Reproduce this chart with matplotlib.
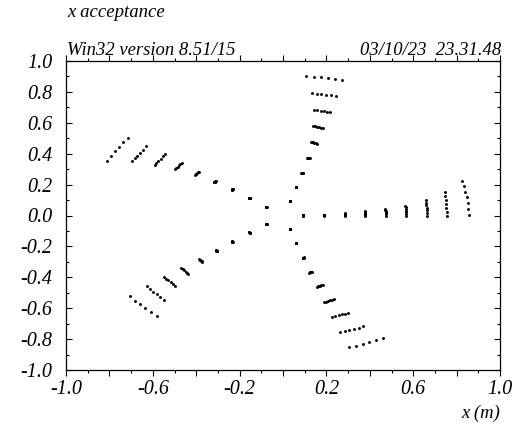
import numpy as np
import matplotlib
matplotlib.use('Agg')
import matplotlib.pyplot as plt
from matplotlib.ticker import MultipleLocator, FixedLocator

plt.rcParams['font.family'] = 'Liberation Serif'
plt.rcParams['font.style'] = 'italic'
plt.rcParams['axes.unicode_minus'] = False

# --- data (x, y in metres), 5 arms x 9 groups ---
right_x = [0.093, 0.093, 0.093, 0.094, 0.094, 0.094, 0.094,
           0.189, 0.190, 0.190, 0.190, 0.191, 0.191, 0.191,
           0.284, 0.285, 0.285, 0.285, 0.286, 0.286, 0.286,
           0.377, 0.378, 0.378, 0.379, 0.379, 0.379, 0.380,
           0.471, 0.472, 0.473, 0.473, 0.474, 0.474, 0.474,
           0.564, 0.565, 0.566, 0.566, 0.567, 0.567, 0.568,
           0.659, 0.660, 0.661, 0.662, 0.663, 0.664, 0.664,
           0.746, 0.748, 0.750, 0.752, 0.753, 0.755, 0.756,
           0.827, 0.834, 0.840, 0.847, 0.851, 0.854, 0.856]
right_y = [0.003, 0.002, 0.002, 0.001, 0.001, 0.000, 0.000,
           0.006, 0.005, 0.004, 0.003, 0.002, 0.001, 0.000,
           0.013, 0.011, 0.009, 0.006, 0.004, 0.002, 0.000,
           0.026, 0.022, 0.017, 0.013, 0.009, 0.004, 0.000,
           0.040, 0.033, 0.027, 0.020, 0.013, 0.007, 0.000,
           0.062, 0.052, 0.041, 0.031, 0.021, 0.010, 0.000,
           0.100, 0.083, 0.067, 0.050, 0.033, 0.017, 0.000,
           0.152, 0.127, 0.101, 0.076, 0.050, 0.025, 0.000,
           0.225, 0.191, 0.154, 0.118, 0.079, 0.042, 0.003]

top_x = [0.030, 0.030, 0.030, 0.031, 0.031, 0.031,
         0.058, 0.059, 0.059, 0.060, 0.060, 0.061,
         0.085, 0.087, 0.088, 0.089, 0.091, 0.093,
         0.110, 0.113, 0.116, 0.119, 0.122, 0.125,
         0.128, 0.134, 0.140, 0.145, 0.151, 0.157,
         0.139, 0.148, 0.158, 0.167, 0.177, 0.186,
         0.143, 0.158, 0.173, 0.187, 0.202, 0.217,
         0.134, 0.155, 0.177, 0.199, 0.220, 0.243,
         0.107, 0.142, 0.176, 0.208, 0.240, 0.270]
top_y = [0.092, 0.092, 0.092, 0.092, 0.092, 0.091,
         0.185, 0.185, 0.184, 0.184, 0.184, 0.183,
         0.278, 0.278, 0.277, 0.277, 0.276, 0.276,
         0.375, 0.374, 0.373, 0.372, 0.371, 0.370,
         0.478, 0.476, 0.473, 0.471, 0.468, 0.465,
         0.579, 0.577, 0.574, 0.571, 0.569, 0.566,
         0.685, 0.682, 0.678, 0.675, 0.672, 0.668,
         0.791, 0.786, 0.784, 0.782, 0.778, 0.772,
         0.901, 0.898, 0.894, 0.890, 0.885, 0.879]

lowright_x = [0.030, 0.030, 0.030, 0.031, 0.031, 0.031,
              0.060, 0.060, 0.061, 0.061, 0.062, 0.062,
              0.091, 0.092, 0.093, 0.094, 0.095, 0.096,
              0.121, 0.123, 0.125, 0.127, 0.130, 0.132,
              0.155, 0.161, 0.166, 0.172, 0.177, 0.183,
              0.189, 0.199, 0.208, 0.218, 0.227, 0.237,
              0.226, 0.241, 0.256, 0.271, 0.286, 0.301,
              0.264, 0.286, 0.306, 0.327, 0.349, 0.369,
              0.303, 0.337, 0.367, 0.398, 0.429, 0.459]
lowright_y = [-0.089, -0.089, -0.089, -0.089, -0.089, -0.088,
              -0.181, -0.181, -0.180, -0.180, -0.179, -0.179,
              -0.274, -0.274, -0.273, -0.273, -0.272, -0.271,
              -0.369, -0.368, -0.368, -0.367, -0.366, -0.365,
              -0.461, -0.459, -0.457, -0.455, -0.452, -0.450,
              -0.562, -0.558, -0.553, -0.549, -0.545, -0.540,
              -0.655, -0.650, -0.645, -0.640, -0.635, -0.629,
              -0.752, -0.748, -0.743, -0.737, -0.728, -0.717,
              -0.853, -0.845, -0.834, -0.821, -0.806, -0.791]

upleft_x = [-0.078, -0.078, -0.077, -0.077, -0.077, -0.076,
            -0.156, -0.155, -0.155, -0.154, -0.153, -0.153,
            -0.236, -0.235, -0.234, -0.233, -0.232, -0.231,
            -0.318, -0.317, -0.315, -0.314, -0.312, -0.311,
            -0.407, -0.403, -0.399, -0.395, -0.391, -0.387,
            -0.497, -0.491, -0.485, -0.479, -0.473, -0.467,
            -0.592, -0.583, -0.574, -0.564, -0.555, -0.546,
            -0.697, -0.684, -0.672, -0.660, -0.646, -0.631,
            -0.810, -0.792, -0.773, -0.755, -0.737, -0.715]
upleft_y = [0.056, 0.056, 0.057, 0.057, 0.057, 0.058,
            0.111, 0.112, 0.113, 0.113, 0.114, 0.115,
            0.167, 0.168, 0.169, 0.171, 0.172, 0.173,
            0.215, 0.217, 0.218, 0.220, 0.221, 0.223,
            0.262, 0.266, 0.270, 0.275, 0.279, 0.283,
            0.299, 0.307, 0.315, 0.324, 0.332, 0.340,
            0.327, 0.341, 0.355, 0.368, 0.382, 0.396,
            0.351, 0.370, 0.387, 0.405, 0.426, 0.450,
            0.353, 0.385, 0.417, 0.445, 0.478, 0.504]

lowleft_x = [-0.078, -0.078, -0.077, -0.077, -0.076, -0.076,
             -0.155, -0.155, -0.154, -0.154, -0.153, -0.153,
             -0.236, -0.235, -0.234, -0.234, -0.233, -0.232,
             -0.310, -0.309, -0.308, -0.306, -0.305, -0.304,
             -0.387, -0.384, -0.381, -0.377, -0.374, -0.371,
             -0.468, -0.462, -0.456, -0.449, -0.443, -0.437,
             -0.549, -0.539, -0.528, -0.518, -0.507, -0.497,
             -0.629, -0.612, -0.597, -0.580, -0.565, -0.548,
             -0.706, -0.683, -0.658, -0.634, -0.608, -0.580]
lowleft_y = [-0.054, -0.054, -0.055, -0.055, -0.056, -0.056,
             -0.109, -0.110, -0.111, -0.111, -0.112, -0.113,
             -0.166, -0.167, -0.169, -0.170, -0.171, -0.172,
             -0.225, -0.226, -0.228, -0.229, -0.231, -0.232,
             -0.282, -0.286, -0.290, -0.293, -0.297, -0.301,
             -0.338, -0.346, -0.354, -0.363, -0.371, -0.379,
             -0.396, -0.408, -0.420, -0.432, -0.444, -0.456,
             -0.456, -0.474, -0.492, -0.510, -0.528, -0.547,
             -0.521, -0.551, -0.575, -0.601, -0.625, -0.650]

x_labels = ['-1.0', '', '-0.6', '', '-0.2', '', '0.2', '', '0.6', '', '1.0']
y_labels = ['-1.0', '-0.8', '-0.6', '-0.4', '-0.2', '0.0', '0.2', '0.4', '0.6', '0.8', '1.0']

fig = plt.figure(figsize=(5.14, 4.25), dpi=100)
ax = fig.add_axes([66 / 514, 55 / 425, 434 / 514, 309 / 425])

for xs, ys in [(right_x, right_y), (top_x, top_y), (lowright_x, lowright_y),
               (upleft_x, upleft_y), (lowleft_x, lowleft_y)]:
    ax.plot(xs, ys, linestyle='none', marker='o', markersize=2.1,
            markeredgewidth=0, color='black')

ax.set_xlim(-1.0, 1.0)
ax.set_ylim(-1.0, 1.0)

xt = np.linspace(-1.0, 1.0, len(x_labels))
ax.xaxis.set_major_locator(FixedLocator(xt))
ax.set_xticklabels(x_labels)
ax.xaxis.set_minor_locator(MultipleLocator(0.1))
yt = np.linspace(-1.0, 1.0, len(y_labels))
ax.yaxis.set_major_locator(FixedLocator(yt))
ax.set_yticklabels(y_labels)
ax.yaxis.set_minor_locator(MultipleLocator(0.1))

ax.tick_params(axis='x', which='both', direction='out', top=True, labelsize=14.5, pad=3)
ax.tick_params(axis='y', which='both', direction='in', right=True, labelsize=14.5, pad=10)
ax.tick_params(which='major', length=4.5, width=0.8)
ax.tick_params(which='minor', length=2.5, width=0.8)
for s in ax.spines.values():
    s.set_linewidth(0.9)

fig.text(67 / 514, 1 - 17 / 425, 'x acceptance', fontsize=13.5, ha='left', va='baseline')
fig.text(67 / 514, 1 - 55 / 425, 'Win32 version 8.51/15', fontsize=13.4, ha='left', va='baseline')
fig.text(501 / 514, 1 - 55 / 425, '03/10/23  23.31.48', fontsize=13.4, ha='right', va='baseline')
fig.text(500 / 514, 1 - 418 / 425, 'x (m)', fontsize=13.4, ha='right', va='baseline')

fig.savefig('out.png', dpi=100)
